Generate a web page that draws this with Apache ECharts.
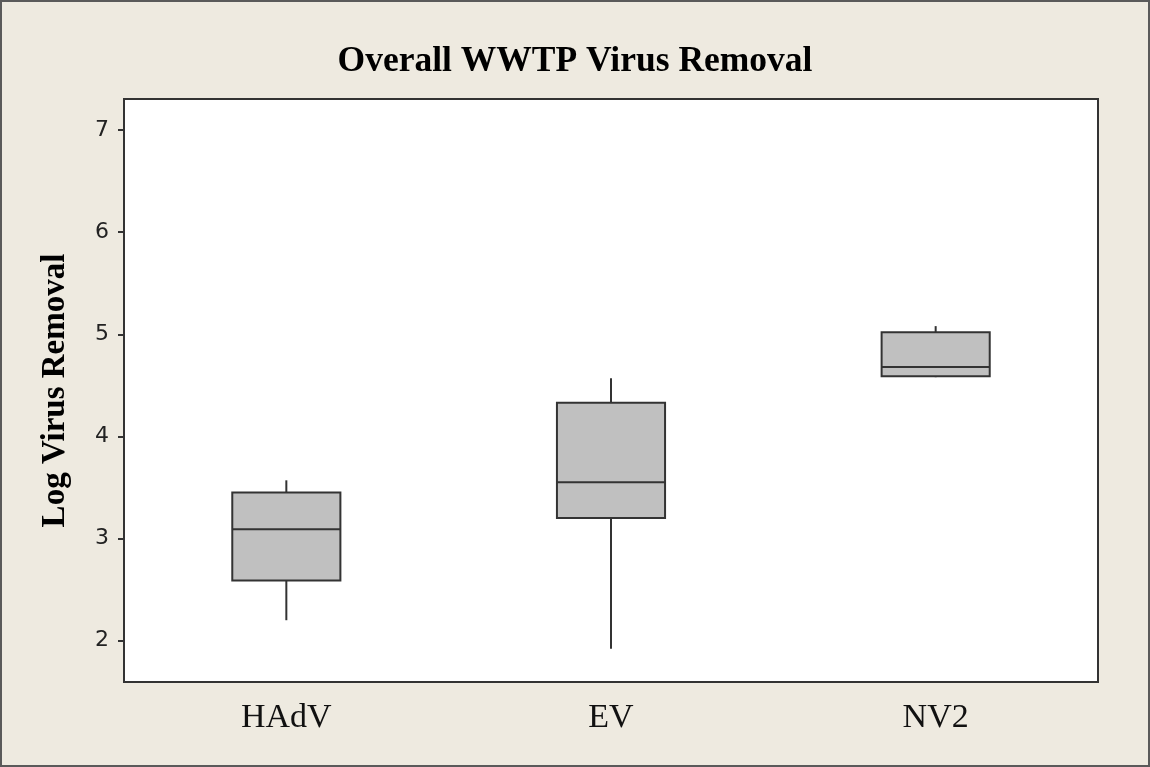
<!DOCTYPE html>
<html>
<head>
<meta charset="utf-8">
<script src="https://cdn.jsdelivr.net/npm/echarts@6/dist/echarts.min.js"></script>
<style>
    html, body { margin: 0; padding: 0; background: #eeeae0; }
    #main { width: 1150px; height: 767px; box-sizing: border-box; border: 2px solid #5a5a5a; }
</style>
</head>
<body>
<div id="main"></div>
<script>
// values
var categories = ['HAdV', 'EV', 'NV2'];
var mins    = [2.20, 1.92, 4.58];
var q1s     = [2.59, 3.20, 4.59];
var medians = [3.09, 3.55, 4.68];
var q3s     = [3.45, 4.33, 5.02];
var maxs    = [3.57, 4.57, 5.08];
var yTicks  = [2, 3, 4, 5, 6, 7];

var boxData = categories.map(function (c, i) {
    return [i, mins[i], q1s[i], medians[i], q3s[i], maxs[i]];
});

var chart = echarts.init(document.getElementById('main'));

function renderBox(params, api) {
    var x = api.value(0);
    var pMin = api.coord([x, api.value(1)]);
    var pQ1 = api.coord([x, api.value(2)]);
    var pMed = api.coord([x, api.value(3)]);
    var pQ3 = api.coord([x, api.value(4)]);
    var pMax = api.coord([x, api.value(5)]);
    var w = api.size([1, 0])[0] * 0.333;
    var cx = pMed[0];
    var lineStyle = {stroke: '#333', lineWidth: 2, fill: null};
    return {
        type: 'group',
        children: [
            {type: 'line', shape: {x1: cx, y1: pQ3[1], x2: cx, y2: pMax[1]}, style: lineStyle},
            {type: 'line', shape: {x1: cx, y1: pQ1[1], x2: cx, y2: pMin[1]}, style: lineStyle},
            {type: 'rect', shape: {x: cx - w / 2, y: pQ3[1], width: w, height: pQ1[1] - pQ3[1]},
                style: {fill: '#c0c0c0', stroke: '#333', lineWidth: 2}},
            {type: 'line', shape: {x1: cx - w / 2, y1: pMed[1], x2: cx + w / 2, y2: pMed[1]}, style: lineStyle}
        ]
    };
}

chart.setOption({
    backgroundColor: '#eeeae0',
    animation: false,
    title: {
        text: 'Overall WWTP Virus Removal',
        left: 'center',
        top: 37,
        textStyle: {
            fontFamily: 'Liberation Serif',
            fontWeight: 'bold',
            fontSize: 35.5,
            color: '#000'
        }
    },
    grid: {
        left: 122,
        right: 50,
        top: 97,
        bottom: 83,
        show: true,
        backgroundColor: '#fff',
        borderColor: '#333',
        borderWidth: 2
    },
    xAxis: {
        type: 'category',
        data: categories,
        axisLine: {lineStyle: {color: '#333', width: 2}},
        axisTick: {alignWithLabel: true, length: 6, lineStyle: {color: '#333', width: 2}},
        axisLabel: {
            margin: 19,
            fontFamily: 'Liberation Serif',
            fontSize: 34,
            color: '#111'
        }
    },
    yAxis: {
        type: 'value',
        min: 1.595,
        max: 7.304,
        name: 'Log Virus Removal',
        nameLocation: 'middle',
        nameGap: 52,
        nameTextStyle: {
            fontFamily: 'Liberation Serif',
            fontWeight: 'bold',
            fontSize: 33,
            color: '#000'
        },
        splitLine: {show: false},
        axisLine: {show: true, lineStyle: {color: '#333', width: 2}},
        axisTick: {show: true, length: 6, customValues: yTicks, lineStyle: {color: '#333', width: 2}},
        axisLabel: {
            margin: 15,
            customValues: yTicks,
            fontFamily: 'DejaVu Sans',
            fontSize: 22,
            color: '#222'
        }
    },
    series: [{
        type: 'custom',
        renderItem: renderBox,
        encode: {x: 0, y: [1, 2, 3, 4, 5]},
        data: boxData
    }]
});
</script>
</body>
</html>
